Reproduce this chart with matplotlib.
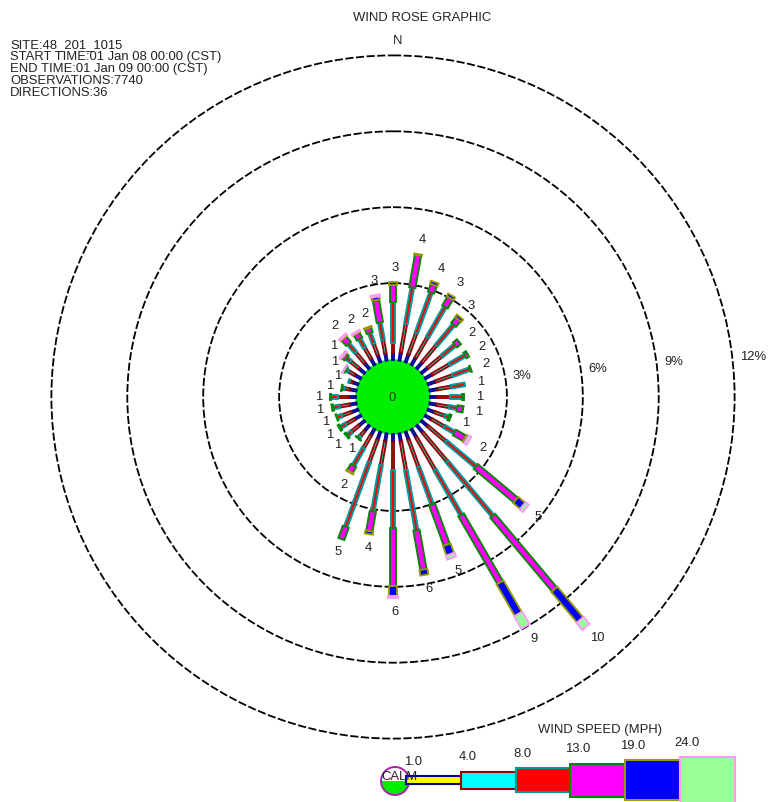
import numpy as np
import matplotlib
matplotlib.use('Agg')
import matplotlib.pyplot as plt
from matplotlib.patches import Polygon, Circle, Rectangle, Wedge

plt.rcParams['font.family'] = ['Liberation Sans', 'DejaVu Sans']

# wind direction (blowing from), degrees clockwise from north
directions = np.arange(0, 360, 10)

# percent of observations per speed class (mph) for each direction
spd_1_4 = [0.28, 0.32, 0.32, 0.32, 0.32, 0.32, 0.32, 0.32, 0.32, 0.28, 0.28, 0.28,
           0.28, 0.32, 0.36, 0.36, 0.32, 0.32, 0.32, 0.32, 0.32, 0.28, 0.28, 0.28,
           0.28, 0.28, 0.28, 0.28, 0.28, 0.24, 0.28, 0.28, 0.28, 0.28, 0.28, 0.28]
spd_4_8 = [0.40, 1.15, 0.91, 0.95, 0.87, 0.75, 0.79, 0.71, 0.55, 0.51, 0.51, 0.43,
           0.59, 0.95, 1.50, 1.50, 1.15, 1.15, 1.11, 0.95, 0.95, 0.59, 0.28, 0.40,
           0.40, 0.40, 0.40, 0.45, 0.20, 0.12, 0.30, 0.45, 0.55, 0.50, 0.50, 0.55]
spd_8_13 = [1.62, 1.46, 1.70, 1.38, 1.07, 0.67, 0.71, 0.75, 0.55, 0.47, 0.32, 0.16,
            0.47, 1.54, 2.81, 2.06, 1.58, 2.41, 2.29, 1.86, 2.73, 0.79, 0.10, 0.20,
            0.25, 0.20, 0.25, 0.25, 0.10, 0.04, 0.10, 0.20, 0.45, 0.40, 0.45, 0.70]
spd_13_19 = [0.67, 1.30, 0.32, 0.40, 0.28, 0.20, 0.12, 0.03, 0.00, 0.08, 0.24, 0.08,
             0.47, 2.06, 3.79, 3.08, 1.70, 1.58, 2.29, 0.79, 0.51, 0.28, 0.02, 0.06,
             0.06, 0.03, 0.06, 0.04, 0.02, 0.00, 0.06, 0.12, 0.28, 0.24, 0.20, 0.90]
spd_19_24 = [0.12, 0.04, 0.12, 0.12, 0.12, 0.00, 0.00, 0.00, 0.00, 0.00, 0.00, 0.00,
             0.08, 0.36, 1.58, 1.44, 0.40, 0.22, 0.40, 0.12, 0.00, 0.04, 0.00, 0.00,
             0.00, 0.00, 0.00, 0.00, 0.00, 0.00, 0.00, 0.04, 0.04, 0.04, 0.04, 0.12]
spd_24_up = [0.00, 0.00, 0.00, 0.00, 0.00, 0.00, 0.00, 0.00, 0.00, 0.00, 0.00, 0.00,
             0.12, 0.16, 0.36, 0.57, 0.16, 0.00, 0.08, 0.00, 0.00, 0.00, 0.00, 0.00,
             0.00, 0.00, 0.00, 0.00, 0.00, 0.00, 0.02, 0.06, 0.06, 0.04, 0.00, 0.08]
tip_labels = ['3', '4', '4', '3', '3', '2', '2', '2', '1', '1', '1', '1',
              '2', '5', '10', '9', '5', '6', '6', '4', '5', '2', '1', '1',
              '1', '1', '1', '1', '1', '1', '1', '1', '2', '2', '2', '3']

speed_breaks = ['1.0', '4.0', '8.0', '13.0', '19.0', '24.0']
ring_pcts = [3, 6, 9, 12]
calm_pct = '0'

header_lines = ['SITE:48_201_1015',
                'START TIME:01 Jan 08 00:00 (CST)',
                'END TIME:01 Jan 09 00:00 (CST)',
                'OBSERVATIONS:7740',
                'DIRECTIONS:36']

fills = ['#ffff00', '#00ffff', '#ff0000', '#ff00ff', '#0000ff', '#99ff99']
edges = ['#000099', '#990000', '#009999', '#008800', '#999900', '#ff99ff']
bar_w = [2.0, 2.5, 3.7, 6.4, 8.0, 9.4]
leg_h = [7.7, 17, 24.3, 33, 40, 45.3]

W, H = 768, 803
fig = plt.figure(figsize=(W / 100, H / 100), dpi=100)
ax = fig.add_axes([0, 0, 1, 1])
ax.set_xlim(0, W)
ax.set_ylim(H, 0)
ax.axis('off')

cx, cy = 393, 398
r0 = 38
scale = 25.3
fs = 9.4
tc = '#222222'


def rad(p):
    return r0 + p * scale


# dashed rings
for k, p in enumerate(ring_pcts):
    ax.add_patch(Circle((cx, cy), rad(p), fill=False, ec='black', lw=1.3,
                        ls=(0, (4.5, 1.4)), zorder=1))
    a = np.radians([79, 81.3, 82.3, 83.1][k])
    ax.text(cx + rad(p) * np.sin(a) + 8, cy - rad(p) * np.cos(a), '%d%%' % p,
            ha='left', va='center', fontsize=fs, color=tc)

# calm circle
ax.add_patch(Circle((cx, cy), 37, fc='#00ee00', ec='#00ee00', lw=1, zorder=2))
ax.text(cx - 1, cy, calm_pct, ha='center', va='center', fontsize=fs, color='#224422', zorder=6)

# petals
classes = np.array([spd_1_4, spd_4_8, spd_8_13, spd_13_19, spd_19_24, spd_24_up])
for i, d in enumerate(directions):
    t = np.radians(d)
    u = np.array([np.sin(t), -np.cos(t)])
    n = np.array([np.cos(t), np.sin(t)])
    c = np.array([cx, cy])
    r_a = 37
    for k in range(6):
        v = classes[k, i]
        if v <= 0:
            continue
        r_b = r_a + v * scale
        hw = bar_w[k] / 2
        pts = [c + u * r_a + n * hw, c + u * r_b + n * hw,
               c + u * r_b - n * hw, c + u * r_a - n * hw]
        ax.add_patch(Polygon(pts, closed=True, fc=fills[k], ec=edges[k], lw=1.35,
                             joinstyle='miter', zorder=3 + k * 0.01))
        r_a = r_b
    lp = c + u * (r_a + 14)
    ax.text(lp[0] + 2, lp[1] - 1, tip_labels[i], ha='center', va='center',
            fontsize=fs, color=tc, zorder=6)

# header
ax.text(422, 21, 'WIND ROSE GRAPHIC', ha='center', va='baseline', fontsize=fs, color=tc)
ax.text(398, 44, 'N', ha='center', va='baseline', fontsize=fs, color=tc)
for j, line in enumerate(header_lines):
    ax.text(10, 48 + 12.1 * j, line, ha='left', va='baseline', fontsize=fs, color=tc)

# legend
ax.text(600, 733, 'WIND SPEED (MPH)', ha='center', va='baseline', fontsize=fs, color=tc)
ly = 781
x0 = 406
bw = 54.8
for k in range(6):
    xl = x0 + k * bw
    ax.add_patch(Rectangle((xl, ly - leg_h[k] / 2), bw, leg_h[k], fc=fills[k], ec=edges[k], lw=1.5, zorder=3))
    ax.text(xl + 7, ly - leg_h[k] / 2 - 15, speed_breaks[k], ha='center', va='center',
            fontsize=fs, color=tc)

ax.add_patch(Circle((395, 782), 14, fc='white', ec='none', zorder=2))
ax.add_patch(Wedge((395, 782), 14, 0, 180, fc='#00ee00', ec='none', zorder=2.1))
ax.add_patch(Circle((395, 782), 14, fill=False, ec='#aa22aa', lw=1.4, zorder=2.2))
ax.text(400, 777, 'CALM', ha='center', va='center', fontsize=fs, color=tc, zorder=6)

fig.savefig('out.png', dpi=100)
